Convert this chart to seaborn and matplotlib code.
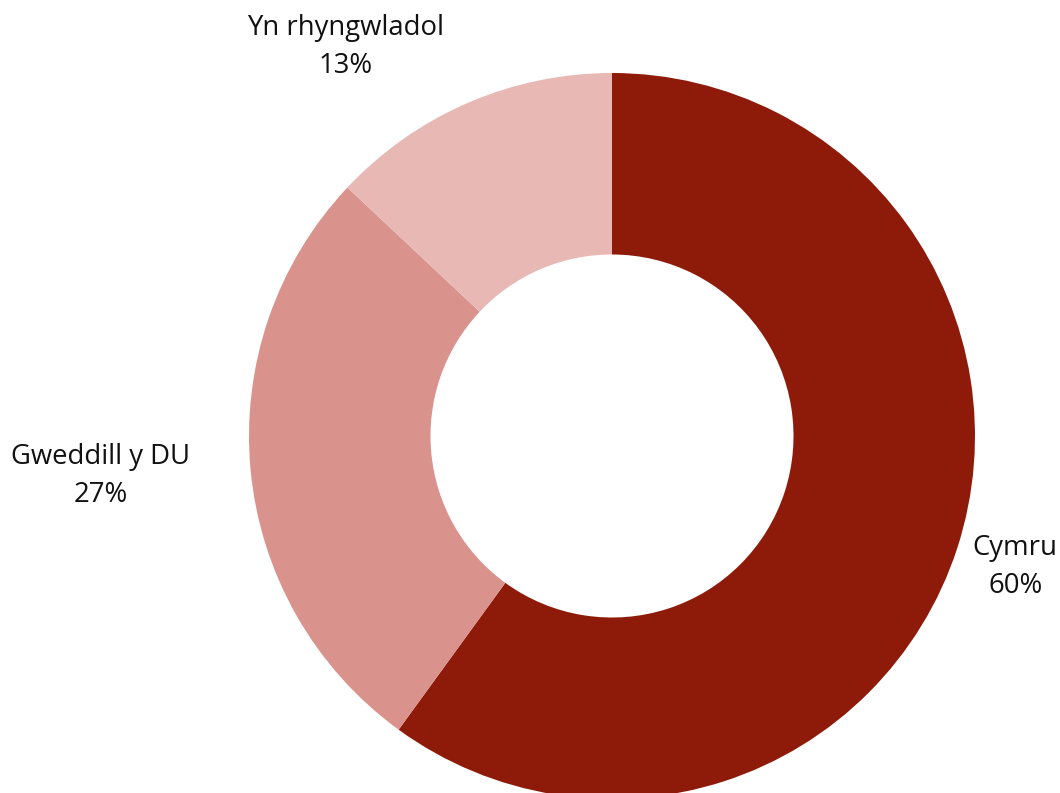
import matplotlib
matplotlib.use("Agg")
import matplotlib.pyplot as plt
import seaborn as sns
import numpy as np

categories = ["Cymru", "Gweddill y DU", "Yn rhyngwladol"]
values = [60, 27, 13]
labels = ["Cymru\n60%", "Gweddill y DU\n27%", "Yn rhyngwladol\n13%"]
colors = ["#8E1B0A", "#D9938C", "#E8B8B5"]

sns.set_theme(style="white")
plt.rcParams['font.family'] = ['Open Sans', 'DejaVu Sans']

W, H = 1060, 793
fig = plt.figure(figsize=(W / 100, H / 100), dpi=100)
ax = fig.add_axes([0, 0, 1, 1])

cx, cy, R = 612, H - 436, 363
wedges, texts = ax.pie(
    values, labels=labels, colors=colors, startangle=90, counterclock=False,
    radius=R, center=(cx, cy), labeldistance=1.168,
    wedgeprops=dict(width=R * 0.5, edgecolor="white", linewidth=0),
    textprops=dict(fontsize=19.8, color="#111111", multialignment="center",
                   linespacing=1.5),
)
texts[0].set_ha("center")
texts[1].set_ha("right")
texts[2].set_ha("right")
ax.set_xlim(0, W)
ax.set_ylim(0, H)
ax.set_aspect("equal")
ax.axis("off")
fig.savefig("out.png", dpi=100)
